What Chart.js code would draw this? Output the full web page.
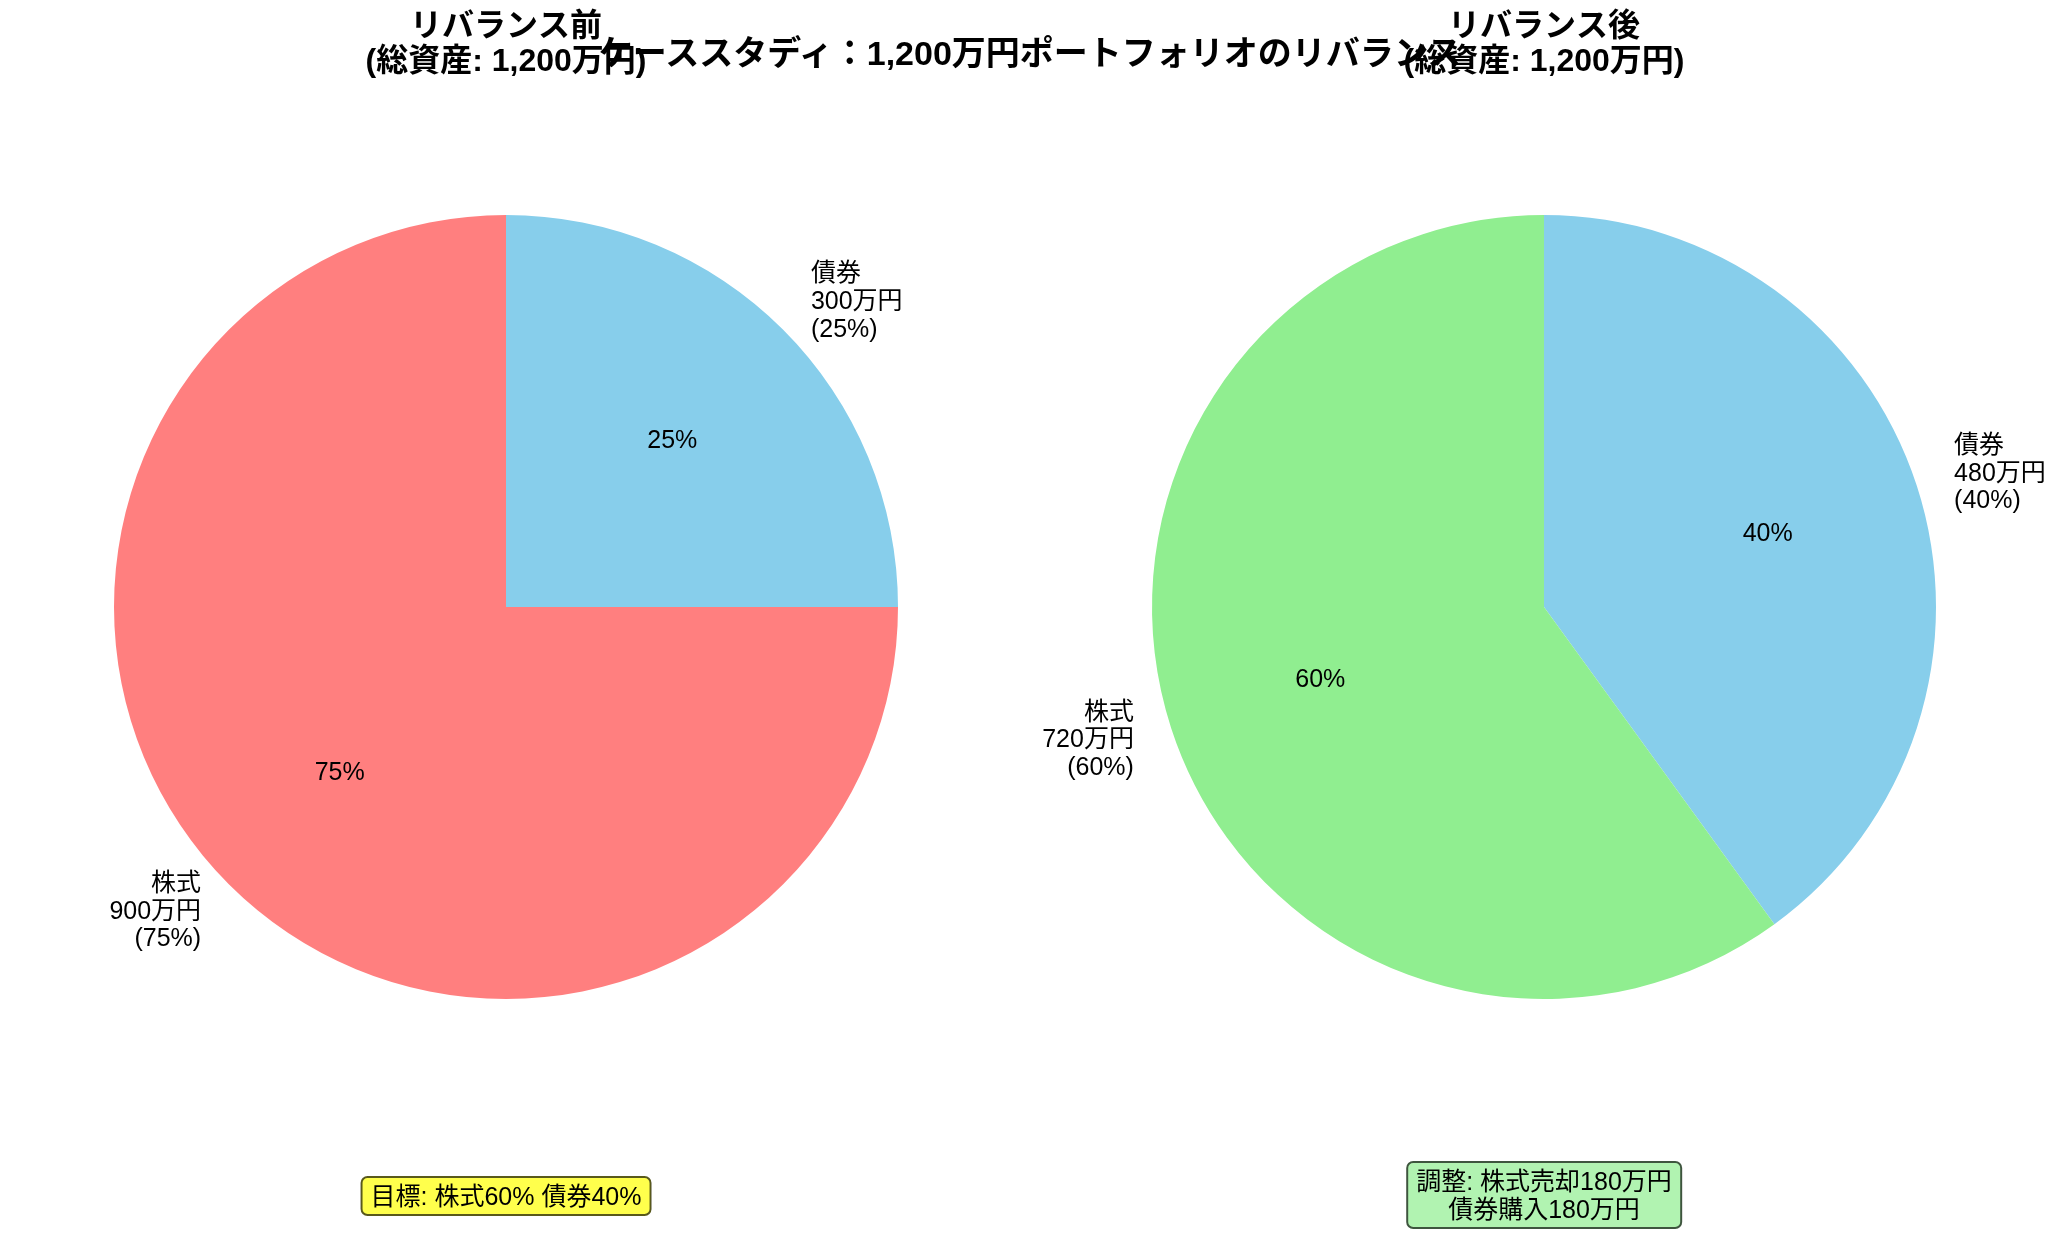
<!DOCTYPE html>
<html>
<head>
<meta charset="utf-8">
<script src="https://cdn.jsdelivr.net/npm/chart.js@4"></script>
<style>
  html, body { margin: 0; padding: 0; background: #fff; }
  #wrap { position: relative; width: 2060px; height: 1236px; overflow: hidden;
          font-family: "Liberation Sans", "Noto Sans CJK JP", sans-serif; }
  canvas { position: absolute; top: 0; }
  #mainTitle { position: absolute; left: 0; width: 2060px; top: 29px; text-align: center;
               font-size: 34px; font-weight: bold; line-height: 48px; color: #000; z-index: 5; }
  .note { position: absolute; transform: translate(-50%, -50%); font-size: 25px; line-height: 28px;
          text-align: center; padding: 4px 8px; border-radius: 7px; white-space: nowrap; color: #000;
          border: 2px solid rgba(0,0,0,0.65); }
</style>
</head>
<body>
<div id="wrap">
  <canvas id="before" width="1030" height="1236" style="left:0"></canvas>
  <canvas id="after" width="1030" height="1236" style="left:1030px"></canvas>
  <div id="mainTitle">ケーススタディ：1,200万円ポートフォリオのリバランス</div>
  <div class="note" id="noteBefore" style="left:506px; top:1196px; background:rgba(255,255,0,0.7)"></div>
  <div class="note" id="noteAfter" style="left:1544px; top:1195px; background:rgba(144,238,144,0.7)"></div>
</div>
<script>
// data (万円)
var categories = ['株式', '債券'];
var amountsBefore = [900, 300];
var amountsAfter = [720, 480];
var colorsBefore = ['#FF7F7F', '#87CEEB'];
var colorsAfter = ['#90EE90', '#87CEEB'];
var titleBefore = ['リバランス前', '(総資産: 1,200万円)'];
var titleAfter = ['リバランス後', '(総資産: 1,200万円)'];
var noteBefore = ['目標: 株式60% 債券40%'];
var noteAfter = ['調整: 株式売却180万円', '債券購入180万円'];

var FONT = '"Liberation Sans", "Noto Sans CJK JP", sans-serif';

document.getElementById('noteBefore').innerHTML = noteBefore.join('<br>');
document.getElementById('noteAfter').innerHTML = noteAfter.join('<br>');

// matplotlib draws counter-clockwise from the top, chart.js clockwise -> reverse order
function rev(a) { return a.slice().reverse(); }

var pieLabels = {
    id: 'pieLabels',
    afterDraw: function (chart, args, opts) {
        var ctx = chart.ctx;
        var meta = chart.getDatasetMeta(0);
        var data = chart.data.datasets[0].data;
        var total = data.reduce(function (s, v) { return s + v; }, 0);
        ctx.save();
        ctx.fillStyle = '#000';
        meta.data.forEach(function (arc, i) {
            var mid = (arc.startAngle + arc.endAngle) / 2;
            var r = arc.outerRadius;
            var pct = Math.round(data[i] / total * 100);
            // inner percent
            ctx.font = '25px ' + FONT;
            ctx.textAlign = 'center';
            ctx.textBaseline = 'middle';
            ctx.fillText(pct + '%', arc.x + Math.cos(mid) * r * 0.6, arc.y + Math.sin(mid) * r * 0.6);
            // outer label
            var lines = [chart.data.labels[i], data[i] + '万円', '(' + pct + '%)'];
            var lx = arc.x + Math.cos(mid) * r * 1.1;
            var ly = arc.y + Math.sin(mid) * r * 1.1;
            var lh = 27.6;
            ctx.textAlign = Math.cos(mid) >= 0 ? 'left' : 'right';
            lines.forEach(function (t, k) {
                ctx.fillText(t, lx, ly + (k - (lines.length - 1) / 2) * lh);
            });
        });
        // subplot title
        var cx = meta.data[0].x;
        ctx.font = 'bold 32px ' + FONT;
        ctx.textAlign = 'center';
        ctx.textBaseline = 'middle';
        opts.title.forEach(function (t, k) {
            ctx.fillText(t, cx, 27 + k * 35);
        });
        ctx.restore();
    }
};

function makePie(id, values, colors, title, padLeft, padRight) {
    new Chart(document.getElementById(id), {
        type: 'pie',
        data: {
            labels: rev(categories),
            datasets: [{
                data: rev(values),
                backgroundColor: rev(colors),
                borderWidth: 0
            }]
        },
        options: {
            responsive: false,
            animation: false,
            layout: { padding: { left: padLeft, right: padRight, top: 215, bottom: 237 } },
            plugins: {
                legend: { display: false },
                tooltip: { enabled: false },
                pieLabels: { title: title }
            }
        },
        plugins: [pieLabels]
    });
}

makePie('before', amountsBefore, colorsBefore, titleBefore, 114, 132);
makePie('after', amountsAfter, colorsAfter, titleAfter, 122, 124);
</script>
</body>
</html>
